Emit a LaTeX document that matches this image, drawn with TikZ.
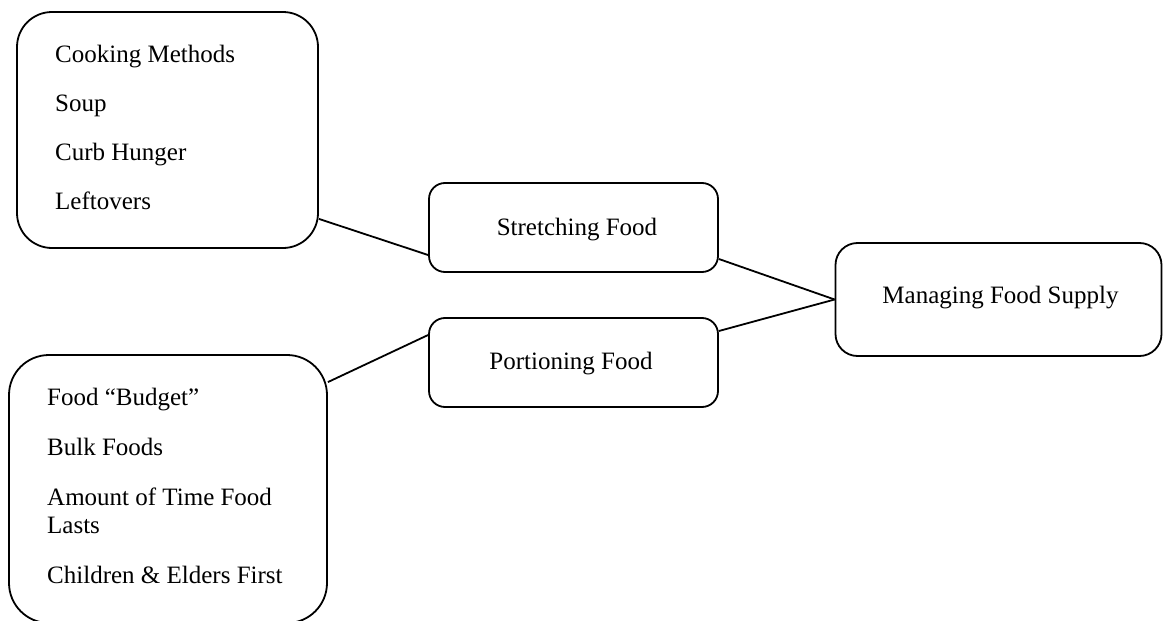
\documentclass[tikz,border=0pt]{standalone}
\usepackage{fontspec}
\setmainfont{Liberation Serif}
\usetikzlibrary{calc}
\tikzset{
  box/.style={draw=black, line width=1.8pt, inner sep=0pt, fill=none},
  txt/.style={inner sep=0pt, font=\fontsize{25}{30}\selectfont, text=black},
  link/.style={draw=black, line width=1.8pt}
}
\begin{document}
\begin{tikzpicture}[x=1pt, y=-1pt]
\useasboundingbox (0,0) rectangle (1163,621);
\clip (0,0) rectangle (1163,621);
\fill[white] (0,0) rectangle (1163,621);
% boxes
\node[box, rounded corners=35pt, minimum width=301pt, minimum height=236pt] (A) at (167.5,130) {};
\node[box, rounded corners=16pt, minimum width=289pt, minimum height=89pt] (B) at (573.5,227.5) {};
\node[box, rounded corners=16pt, minimum width=289pt, minimum height=89pt] (C) at (573.5,362.5) {};
\node[box, rounded corners=22pt, minimum width=326pt, minimum height=113pt] (D) at (998.5,299.5) {};
\node[box, rounded corners=40pt, minimum width=318pt, minimum height=268pt] (E) at (168,489) {};
% texts
\node[txt, anchor=base west] (a1) at (55,62) {Cooking Methods};
\node[txt, anchor=base west] (a2) at (55,111) {Soup};
\node[txt, anchor=base west] (a3) at (55,160) {Curb Hunger};
\node[txt, anchor=base west] (a4) at (55,209) {Leftovers};
\node[txt, anchor=base] (bt) at (577,235) {Stretching Food};
\node[txt, anchor=base] (ct) at (571,369) {Portioning Food};
\node[txt, anchor=base] (dt) at (1000.5,303) {Managing Food Supply};
\node[txt, anchor=base west] (e1) at (47,405) {Food “Budget”};
\node[txt, anchor=base west] (e2) at (47,455) {Bulk Foods};
\node[txt, anchor=base west] (e3) at (47,505) {Amount of Time Food};
\node[txt, anchor=base west] (e4) at (47,533) {Lasts};
\node[txt, anchor=base west] (e5) at (47,583) {Children \& Elders First};
% connectors
\draw[link] ($(A.south east)+(0,-30)$) -- ($(B.west)+(0,27.5)$);
\draw[link] ($(B.east)+(0,31.5)$) -- (D.west);
\draw[link] ($(C.east)+(0,-31.5)$) -- (D.west);
\draw[link] ($(E.north east)+(0,28)$) -- ($(C.west)+(0,-27.5)$);
\end{tikzpicture}
\end{document}
